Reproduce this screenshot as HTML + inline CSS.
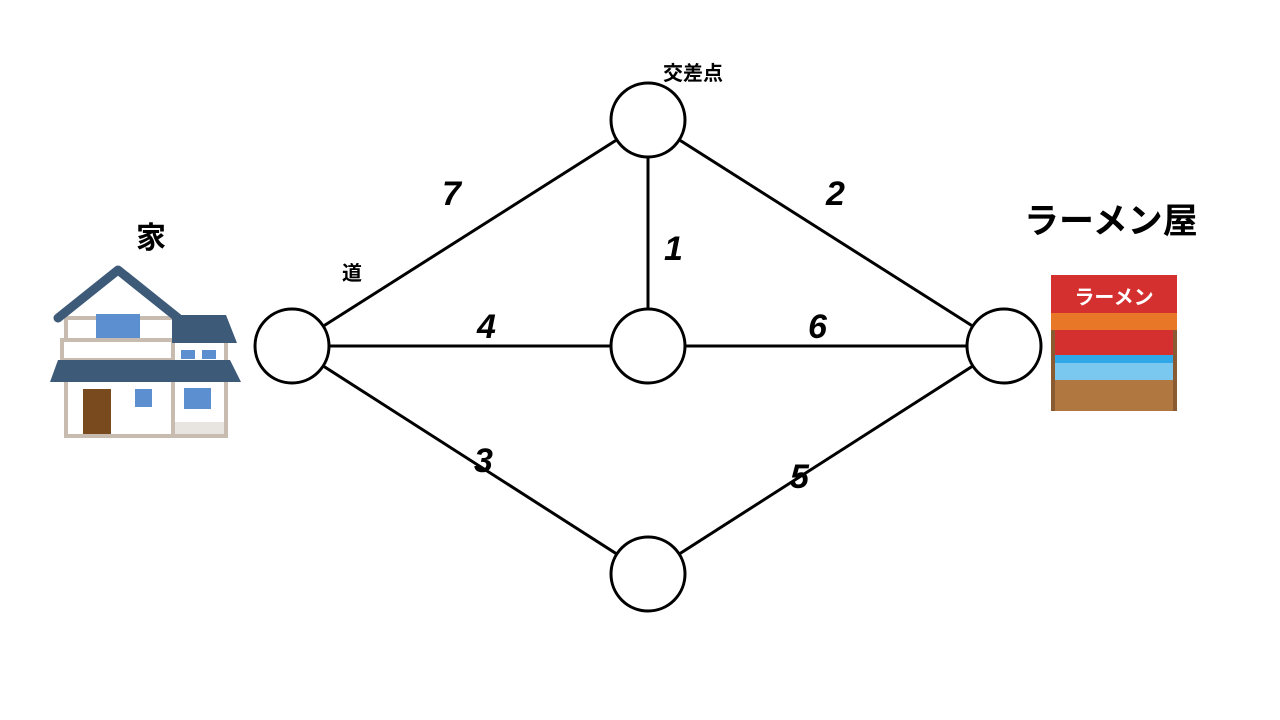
<!DOCTYPE html>
<html><head><meta charset="utf-8"><style>
body{margin:0;background:#fff;}
svg{display:block}
text{font-family:"Liberation Sans","Noto Sans CJK JP",sans-serif;font-weight:bold;fill:#000}
</style></head><body>
<svg width="1280" height="720" viewBox="0 0 1280 720" xmlns="http://www.w3.org/2000/svg">
<g stroke="#000" stroke-width="3" fill="none">
<line x1="292" y1="346" x2="648" y2="120"/>
<line x1="292" y1="346" x2="648" y2="346"/>
<line x1="292" y1="346" x2="648" y2="574"/>
<line x1="648" y1="120" x2="648" y2="346"/>
<line x1="648" y1="120" x2="1004" y2="346"/>
<line x1="648" y1="346" x2="1004" y2="346"/>
<line x1="648" y1="574" x2="1004" y2="346"/>
</g>
<g stroke="#000" stroke-width="3" fill="#fff">
<circle cx="292" cy="346" r="37"/>
<circle cx="648" cy="120" r="37"/>
<circle cx="648" cy="346" r="37"/>
<circle cx="648" cy="574" r="37"/>
<circle cx="1004" cy="346" r="37"/>
</g>
<g font-size="34" font-style="italic">
<text x="442" y="205">7</text>
<text x="826" y="205">2</text>
<text x="664" y="260">1</text>
<text x="477" y="338">4</text>
<text x="808" y="338">6</text>
<text x="474" y="472">3</text>
<text x="790" y="488">5</text>
</g>
<text x="663" y="80" font-size="20">交差点</text>
<text x="342" y="280" font-size="20">道</text>
<text x="136" y="248" font-size="30">家</text>
<text x="1024" y="233" font-size="35">ラーメン屋</text>
<!-- house -->
<g>
<rect x="66" y="318" width="108" height="118" fill="#fff" stroke="#c8bcb0" stroke-width="4"/>
<rect x="62" y="340" width="112" height="20" fill="#fff" stroke="#c8bcb0" stroke-width="4"/>
<rect x="173" y="340" width="53" height="96" fill="#fff" stroke="#c8bcb0" stroke-width="4"/>
<rect x="175" y="422" width="49" height="12" fill="#e8e4e0"/>
<polyline points="58,318 118,270 178,318" fill="none" stroke="#3d5a78" stroke-width="9" stroke-linecap="round" stroke-linejoin="round"/>
<polygon points="172,315 226,315 237,343 172,343" fill="#3d5a78"/>
<polygon points="58,360 230,360 241,382 50,382" fill="#3d5a78"/>
<rect x="96" y="314" width="44" height="24" fill="#5b8fd0"/>
<rect x="181" y="350" width="14" height="9" fill="#5b8fd0"/>
<rect x="202" y="350" width="14" height="9" fill="#5b8fd0"/>
<rect x="135" y="389" width="17" height="18" fill="#5b8fd0"/>
<rect x="184" y="388" width="27" height="21" fill="#5b8fd0"/>
<rect x="83" y="389" width="28" height="45" fill="#7a4a1f"/>
</g>
<!-- ramen -->
<g>
<rect x="1051" y="275" width="126" height="136" fill="#8a5a30"/>
<rect x="1051" y="275" width="126" height="38" fill="#d43030"/>
<rect x="1051" y="313" width="126" height="17" fill="#e87828"/>
<rect x="1055" y="330" width="118" height="25" fill="#d43030"/>
<rect x="1055" y="355" width="118" height="25" fill="#7ac8f0"/>
<rect x="1055" y="355" width="118" height="8" fill="#30a8e8"/>
<rect x="1055" y="380" width="118" height="31" fill="#b07840"/>
<text x="1114" y="304" font-size="20" text-anchor="middle" style="fill:#fff">ラーメン</text>
</g>
</svg>
</body></html>
